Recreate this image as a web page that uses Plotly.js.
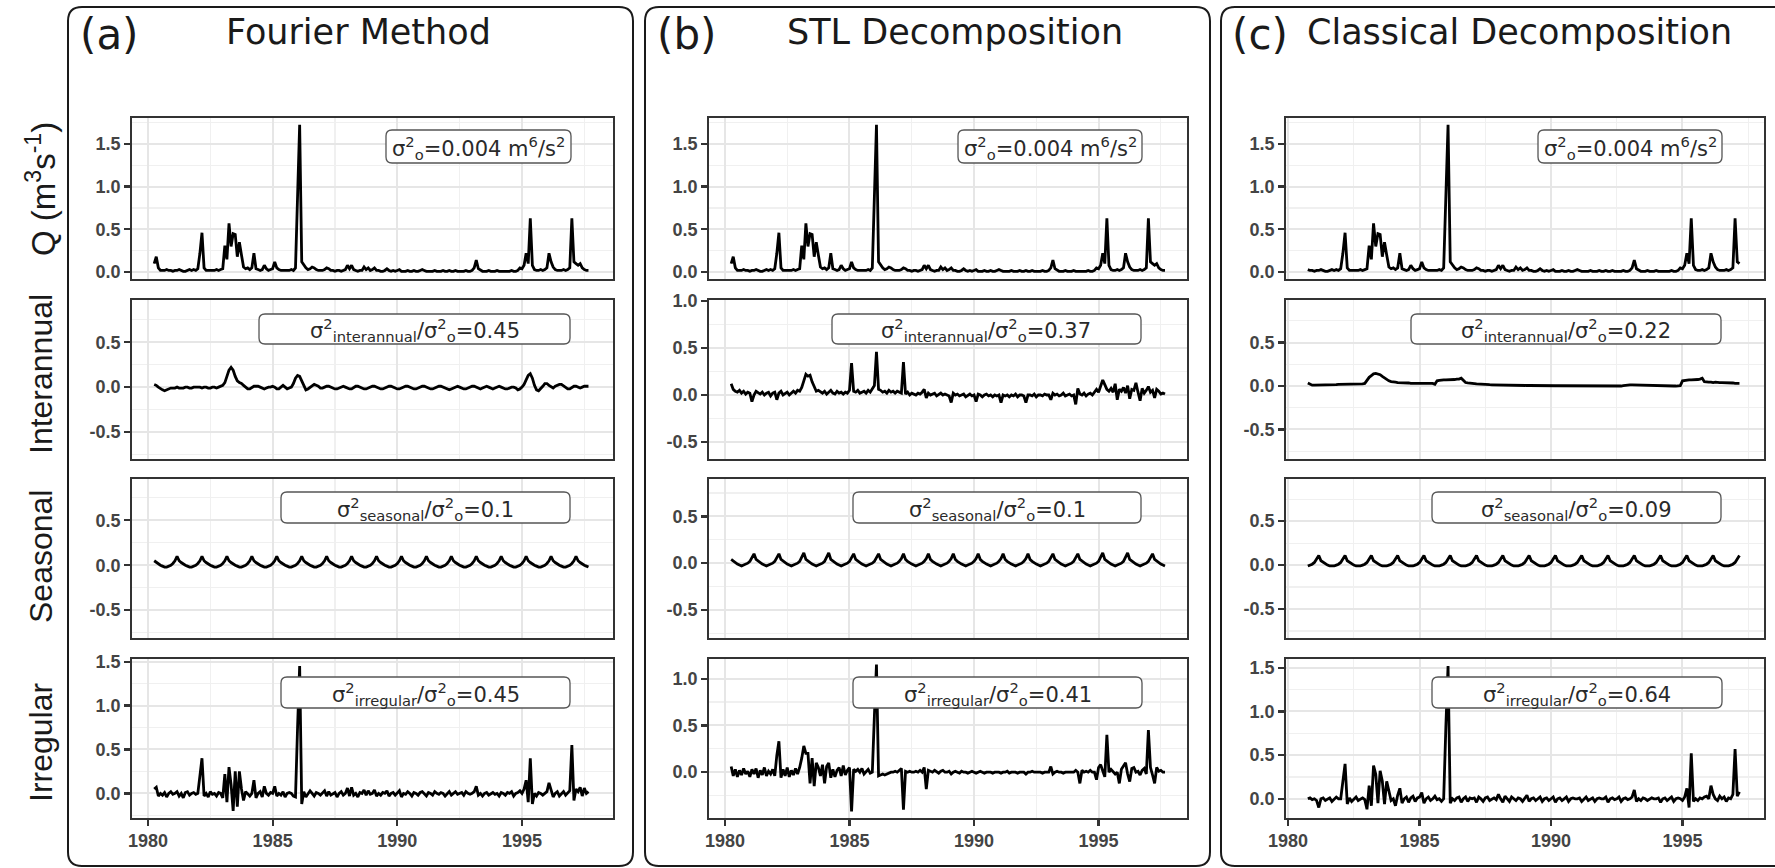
<!DOCTYPE html>
<html><head><meta charset="utf-8">
<script src="https://cdn.plot.ly/plotly-3.0.1.min.js"></script>
<style>html,body{margin:0;padding:0;background:#fff}#chart{width:1775px;height:868px}</style>
</head><body><div id="chart"></div>
<script>
const W = 1775, H = 868;

// ---------- text ----------
const panelTags = ['(a)', '(b)', '(c)'];
const panelTitles = ['Fourier Method', 'STL Decomposition', 'Classical Decomposition'];
const rowTitles = ['Q (m<sup>3</sup>s<sup>-1</sup>)', 'Interannual', 'Seasonal', 'Irregular'];
const xTickVals = [1980, 1985, 1990, 1995];
const xTickText = ['1980', '1985', '1990', '1995'];
const totalVarianceLabel = 'σ<sup>2</sup><sub>o</sub>=0.004 m<sup>6</sup>/s<sup>2</sup>';
const interannualRatio = ['0.45', '0.37', '0.22'];
const seasonalRatio = ['0.1', '0.1', '0.09'];
const irregularRatio = ['0.45', '0.41', '0.64'];

// ---------- data: monthly, Apr 1980 - Sep 1997 (panels a, b) ----------
const Q = [
 .10,.18,.05,.02,.02,.02,.03,.02,.02,
 .01,.02,.02,.03,.02,.01,.01,.02,.03,.02,.03,.02,
 .04,.22,.46,.05,.02,.02,.02,.02,.02,.03,.02,.03,
 .04,.31,.15,.57,.30,.45,.44,.18,.35,.20,.06,.04,
 .05,.03,.05,.22,.04,.03,.02,.03,.08,.04,.02,.03,
 .04,.12,.05,.03,.02,.02,.02,.02,.02,.03,.02,.05,
 .95,1.72,.12,.08,.05,.03,.04,.06,.05,.03,.02,.02,
 .02,.03,.05,.04,.02,.02,.01,.02,.02,.01,.02,.03,
 .08,.04,.08,.03,.02,.01,.02,.02,.06,.03,.05,.02,
 .03,.05,.02,.02,.01,.01,.02,.04,.02,.01,.02,.01,
 .02,.03,.01,.01,.01,.02,.01,.01,.02,.01,.01,.02,
 .03,.02,.01,.01,.01,.01,.02,.01,.01,.01,.02,.01,
 .01,.02,.01,.01,.02,.01,.01,.01,.01,.02,.01,.01,
 .02,.05,.14,.04,.02,.01,.01,.01,.02,.01,.01,.01,
 .02,.01,.01,.01,.01,.01,.01,.02,.01,.01,.02,.05,
 .04,.08,.22,.10,.63,.08,.03,.02,.02,.03,.02,.03,
 .05,.22,.12,.06,.03,.02,.02,.02,.03,.02,.03,.05,
 .63,.12,.10,.08,.10,.05,.03,.02,.02
];
const fourierInterannual = [
 .03,.02,0,-.02,-.03,-.04,-.03,-.02,-.01,
 -.01,-.01,0,-.01,-.01,-.01,0,0,-.01,-.01,0,0,
 0,0,-.01,0,0,-.01,-.01,0,0,-.01,0,.01,
 .02,.05,.12,.19,.22,.19,.12,.07,.05,.04,.02,0,
 -.02,-.02,0,.01,.01,.01,0,-.01,-.02,-.01,0,0,
 .01,0,-.02,-.02,0,.02,0,-.02,-.01,0,.04,.1,
 .13,.12,.07,.01,-.03,-.02,0,.02,.03,.02,.01,-.01,
 -.01,0,.01,.01,0,-.01,-.02,-.02,-.01,0,.01,0,
 -.01,-.02,-.02,0,.01,.01,0,-.01,-.02,-.02,-.01,0,
 .01,.01,0,-.01,-.02,-.02,-.01,0,.01,.01,0,-.01,
 -.02,-.02,-.01,0,.01,.01,0,-.01,-.02,-.02,-.01,0,
 .01,.01,0,-.01,-.02,-.02,-.01,0,.01,.01,0,-.01,
 -.02,-.03,-.02,-.01,0,.01,0,-.01,-.02,-.02,-.01,0,
 .01,.01,0,-.01,-.02,-.01,0,.01,0,-.01,-.02,-.01,
 0,.01,0,-.01,-.02,-.02,-.01,0,0,-.01,-.03,-.02,
 0,.03,.08,.13,.15,.1,.02,-.03,-.04,-.02,.01,.04,
 .04,.02,0,-.01,.01,.02,.03,.03,.01,-.01,-.02,-.02,
 0,.01,.01,0,-.01,0,.01,.01,.01
];
const fourierSeasonal = [
 .05,.03,.01,0,-.01,-.02,-.02,-.01,0,
 .02,.05,.1,.05,.03,.01,0,-.01,-.02,-.02,-.01,0,
 .02,.05,.1,.05,.03,.01,0,-.01,-.02,-.02,-.01,0,
 .02,.05,.1,.05,.03,.01,0,-.01,-.02,-.02,-.01,0,
 .02,.05,.1,.05,.03,.01,0,-.01,-.02,-.02,-.01,0,
 .02,.05,.1,.05,.03,.01,0,-.01,-.02,-.02,-.01,0,
 .02,.05,.1,.05,.03,.01,0,-.01,-.02,-.02,-.01,0,
 .02,.05,.1,.05,.03,.01,0,-.01,-.02,-.02,-.01,0,
 .02,.05,.1,.05,.03,.01,0,-.01,-.02,-.02,-.01,0,
 .02,.05,.1,.05,.03,.01,0,-.01,-.02,-.02,-.01,0,
 .02,.05,.1,.05,.03,.01,0,-.01,-.02,-.02,-.01,0,
 .02,.05,.1,.05,.03,.01,0,-.01,-.02,-.02,-.01,0,
 .02,.05,.1,.05,.03,.01,0,-.01,-.02,-.02,-.01,0,
 .02,.05,.1,.05,.03,.01,0,-.01,-.02,-.02,-.01,0,
 .02,.05,.1,.05,.03,.01,0,-.01,-.02,-.02,-.01,0,
 .02,.05,.1,.05,.03,.01,0,-.01,-.02,-.02,-.01,0,
 .02,.05,.1,.05,.03,.01,0,-.01,-.02,-.02,-.01,0,
 .02,.05,.1,.05,.03,.01,0,-.01,-.02
];
const fourierIrregular = [
 .05,.07,-.03,0,-.02,.01,-.04,0,.02,
 -.01,0,.02,-.03,0,-.05,.01,.02,-.02,0,.01,-.01,
 0,.2,.4,-.03,0,-.04,.02,-.01,0,-.03,.01,0,
 -.05,.22,-.1,.3,.1,-.2,.25,-.15,.25,.05,-.08,.02,
 0,-.03,0,.15,-.05,0,.02,-.04,.08,0,-.02,.01,
 0,.08,-.03,0,-.02,.02,-.04,0,.01,0,-.03,-.04,
 .75,1.45,-.12,.02,-.04,0,.03,0,-.03,.01,0,-.02,
 0,.03,-.03,.02,-.02,0,.01,-.04,0,.02,-.02,0,
 .06,-.03,.07,-.02,0,-.04,.01,0,.04,-.02,.03,-.01,
 0,.04,-.03,0,-.02,.01,0,.03,-.03,0,.01,-.02,
 0,.03,-.04,0,-.01,.02,0,-.03,.01,0,-.02,.01,
 .02,0,-.03,.01,0,-.02,.02,0,-.01,.01,0,-.03,
 0,.02,-.02,0,.02,-.01,0,.01,-.02,.02,0,-.01,
 0,.02,.08,-.02,0,-.03,0,.01,-.02,0,.01,-.01,
 0,-.03,.01,0,-.02,.01,0,.02,-.03,0,.01,.03,
 0,.05,.15,-.1,.4,-.12,0,-.03,.01,0,-.02,0,
 .02,.12,.03,-.04,0,.02,-.03,0,.02,-.02,0,.03,
 .55,-.08,.05,.02,.07,-.03,.06,0,.02
];
const stlInterannual = [
 .12,.06,.04,.03,.05,.02,.04,.01,.03,
 .02,-.07,0,.04,.02,.01,.03,0,.02,.03,-.01,.02,
 .03,-.05,.02,.04,0,.02,.03,0,.02,.04,.02,.05,
 .04,.08,.15,.22,.2,.21,.14,.08,.04,.05,.03,.02,
 .04,.01,.03,.05,.02,.01,.04,.02,.03,.01,.03,.02,
 .05,.34,.04,.03,.05,.02,.03,.04,.02,.05,.03,.06,
 .1,.46,.06,.05,.03,.04,.02,.05,.03,.04,.02,.04,
 .03,.02,.35,.01,.03,0,.02,.01,0,.02,.01,.03,
 .06,-.03,.02,0,.01,.02,-.01,.01,.02,0,.01,0,
 -.01,-.08,.02,0,.01,-.01,0,.01,-.02,0,.01,-.01,
 0,-.07,.01,0,-.02,0,.01,-.01,0,-.02,0,-.01,
 0,-.08,0,-.01,0,-.02,0,-.01,.01,-.02,0,0,
 -.01,-.08,0,0,-.01,.01,-.02,0,0,-.01,.01,0,
 0,-.05,.02,0,.01,-.01,0,.02,-.01,0,.01,-.01,
 0,-.1,.07,.01,0,.02,-.01,.01,.02,0,.03,.06,
 .03,.1,.16,.11,.06,.04,.07,.03,.12,-.05,.06,.04,
 .08,.02,.1,-.04,.06,.05,.13,.03,-.06,.07,.02,.05,
 .09,.03,.05,-.03,.06,.04,.01,.02,.01
];
const stlSeasonal = [
 .04,.02,0,-.01,-.02,-.03,-.02,-.01,0,
 .02,.06,.1,.04,.02,0,-.01,-.02,-.03,-.02,-.01,0,
 .02,.06,.1,.04,.02,0,-.01,-.02,-.03,-.02,-.01,0,
 .02,.06,.11,.04,.02,0,-.01,-.02,-.03,-.02,-.01,0,
 .02,.06,.11,.04,.02,0,-.01,-.02,-.03,-.02,-.01,0,
 .02,.06,.1,.04,.02,0,-.01,-.02,-.03,-.02,-.01,0,
 .02,.06,.1,.04,.02,0,-.01,-.02,-.03,-.02,-.01,0,
 .02,.05,.1,.04,.02,0,-.01,-.02,-.03,-.02,-.01,0,
 .02,.05,.1,.04,.02,0,-.01,-.02,-.03,-.02,-.01,0,
 .02,.05,.1,.04,.02,0,-.01,-.02,-.03,-.02,-.01,0,
 .02,.05,.1,.04,.02,0,-.01,-.02,-.03,-.02,-.01,0,
 .02,.05,.1,.04,.02,0,-.01,-.02,-.03,-.02,-.01,0,
 .02,.05,.1,.04,.02,0,-.01,-.02,-.03,-.02,-.01,0,
 .02,.06,.1,.04,.02,0,-.01,-.02,-.03,-.02,-.01,0,
 .02,.06,.1,.04,.02,0,-.01,-.02,-.03,-.02,-.01,0,
 .02,.06,.11,.04,.02,0,-.01,-.02,-.03,-.02,-.01,0,
 .02,.06,.11,.04,.02,0,-.01,-.02,-.03,-.02,-.01,0,
 .02,.06,.1,.04,.02,0,-.01,-.02,-.03
];
const stlIrregular = [
 .06,-.04,.03,-.05,.02,-.03,.04,-.02,.01,
 -.05,.03,-.02,.04,-.06,.02,-.03,.05,-.04,.01,-.02,.03,
 -.04,.18,.33,-.06,.03,-.04,.05,-.05,.02,-.03,.04,-.02,
 .05,.15,.28,.2,.2,-.12,.15,-.15,.1,.05,-.04,.08,
 -.12,.06,.1,-.06,.03,-.05,.02,.05,-.04,.07,-.03,.02,
 .05,-.42,.03,.01,.03,0,.04,-.02,.01,.03,-.01,0,
 .6,1.15,-.04,-.03,-.02,-.03,-.02,-.01,0,0,.01,0,
 .02,.04,-.4,.01,0,.01,0,0,.01,0,.02,0,
 .05,-.18,.02,.01,0,.02,0,-.01,.01,.02,0,0,
 .01,-.02,0,.01,0,-.01,.01,0,0,-.01,0,.01,
 0,-.01,0,.01,0,-.01,0,0,0,-.01,0,0,
 0,-.01,0,0,.01,-.01,0,0,0,-.01,0,0,
 0,-.02,0,0,.01,0,0,0,0,-.01,0,0,
 0,.06,-.02,0,.01,0,0,-.01,0,0,0,0,
 0,.02,0,-.12,.02,0,.01,0,.02,0,0,-.08,
 .05,.08,.02,-.05,.4,0,.03,0,-.02,0,-.12,.03,
 .06,.1,-.02,-.1,.04,.05,0,.01,-.03,.02,.04,-.02,
 .45,.05,-.03,-.12,.05,.01,.02,0,0
];

// ---------- data: monthly, Oct 1980 - Mar 1997 (panel c) ----------
const classicalInterannual = [
 .035,.02,.01,
 .01,.01,.01,.01,.01,.01,.01,.015,.015,.015,.015,.02,
 .02,.02,.02,.02,.02,.02,.02,.02,.02,.02,.025,.03,
 .07,.1,.12,.14,.145,.14,.13,.11,.09,.07,.06,.05,
 .05,.045,.04,.04,.035,.035,.035,.035,.03,.03,.03,.03,
 .03,.03,.03,.03,.03,.03,.03,.02,.06,.065,.07,.07,
 .07,.07,.07,.075,.075,.08,.08,.09,.06,.04,.035,.03,
 .03,.028,.025,.022,.02,.02,.018,.016,.015,.014,.013,.012,
 .012,.011,.01,.01,.01,.01,.01,.01,.009,.008,.008,.008,
 .007,.006,.006,.005,.005,.005,.005,.005,.005,.004,.004,.004,
 .004,.003,.003,.003,.003,.003,.002,.002,.002,.002,.002,.001,
 .001,0,0,0,0,0,0,-.002,-.002,-.002,-.003,-.003,
 -.004,-.004,-.004,-.004,-.004,-.003,-.003,-.002,0,.005,.01,.012,
 .013,.013,.012,.012,.012,.012,.01,.01,.01,.01,.008,.005,
 .002,0,-.002,-.004,-.005,-.005,-.004,-.002,0,0,0,.005,
 .06,.065,.065,.07,.07,.07,.075,.075,.08,.09,.05,.045,
 .045,.045,.04,.045,.04,.04,.04,.04,.04,.035,.035,.035,
 .03,.03,.03
];
const classicalSeasonal = [
 -.01,0,.01,
 .03,.07,.11,.05,.03,.01,0,-.01,-.01,-.01,0,.01,
 .03,.07,.11,.05,.03,.01,0,-.01,-.01,-.01,0,.01,
 .03,.07,.11,.05,.03,.01,0,-.01,-.01,-.01,0,.01,
 .03,.07,.11,.05,.03,.01,0,-.01,-.01,-.01,0,.01,
 .03,.07,.11,.05,.03,.01,0,-.01,-.01,-.01,0,.01,
 .03,.07,.11,.05,.03,.01,0,-.01,-.01,-.01,0,.01,
 .03,.07,.11,.05,.03,.01,0,-.01,-.01,-.01,0,.01,
 .03,.07,.11,.05,.03,.01,0,-.01,-.01,-.01,0,.01,
 .03,.07,.11,.05,.03,.01,0,-.01,-.01,-.01,0,.01,
 .03,.07,.11,.05,.03,.01,0,-.01,-.01,-.01,0,.01,
 .03,.07,.11,.05,.03,.01,0,-.01,-.01,-.01,0,.01,
 .03,.07,.11,.05,.03,.01,0,-.01,-.01,-.01,0,.01,
 .03,.07,.11,.05,.03,.01,0,-.01,-.01,-.01,0,.01,
 .03,.07,.11,.05,.03,.01,0,-.01,-.01,-.01,0,.01,
 .03,.07,.11,.05,.03,.01,0,-.01,-.01,-.01,0,.01,
 .03,.07,.11,.05,.03,.01,0,-.01,-.01,-.01,0,.01,
 .03,.07,.11
];
const classicalIrregular = [
 0,.01,-.01,
 0,-.02,-.1,0,.01,-.02,0,.01,-.03,0,.02,0,
 0,.2,.4,-.06,.01,-.03,0,.02,-.02,0,.01,-.01,
 -.12,.15,-.08,.38,.28,-.05,.32,.2,-.06,.2,.1,-.02,
 0,-.08,.04,.12,-.05,0,.02,-.04,.01,.03,-.03,.01,
 .02,.07,-.05,0,.02,-.02,0,.03,-.01,0,-.03,0,
 .82,1.52,-.05,0,-.02,.01,.02,-.04,0,.02,-.03,.01,
 0,.01,-.04,.02,0,-.03,.01,.02,-.02,0,.01,-.01,
 .05,0,-.04,.03,0,-.03,.02,0,-.02,.01,0,-.03,
 .01,.04,-.03,0,.01,-.02,0,.02,-.03,0,.01,-.02,
 0,.02,-.04,0,.01,-.02,0,.02,-.03,0,.01,0,
 0,.01,-.03,0,.02,-.02,0,.01,-.03,0,.01,0,
 0,.02,-.04,0,.01,-.01,0,.02,-.03,0,.01,-.01,
 0,.02,.1,-.03,0,-.02,.01,0,-.02,0,.01,0,
 0,.01,-.04,0,.01,-.02,0,.02,-.03,0,.01,0,
 -.02,.02,.12,-.1,.52,-.03,0,-.02,.01,0,.02,.03,
 0,.15,.05,0,-.02,.03,0,.02,-.03,.01,0,.05,
 .57,.03,.08
];

// ---------- time axes (monthly index) ----------
const timeAB = Q.map((_, i) => 1980 + (3 + i) / 12);
const timeC = classicalIrregular.map((_, i) => 1980 + (9 + i) / 12);
const QC = Q.slice(6, 6 + classicalIrregular.length);

const panels = [
  {t: timeAB, rows: [Q, fourierInterannual, fourierSeasonal, fourierIrregular]},
  {t: timeAB, rows: [Q, stlInterannual, stlSeasonal, stlIrregular]},
  {t: timeC, rows: [QC, classicalInterannual, classicalSeasonal, classicalIrregular]}
];

// ---------- layout geometry (pixels) ----------
const panelXpx = [[132, 613], [709, 1187], [1286, 1764]];
const rowYpx = [[118, 279], [300, 459], [479, 638], [659, 818]];
const xRanges = [[1979.36, 1998.65], [1979.36, 1998.55], [1979.92, 1998.1]];
const yRanges = [
  [[-0.08, 1.80], [-0.80, 0.97], [-0.81, 0.96], [-0.28, 1.53]],
  [[-0.08, 1.80], [-0.68, 1.01], [-0.80, 0.90], [-0.49, 1.21]],
  [[-0.08, 1.80], [-0.84, 0.99], [-0.83, 0.98], [-0.22, 1.60]]
];
const yTicks = [
  [[0, .5, 1, 1.5], [-.5, 0, .5], [-.5, 0, .5], [0, .5, 1, 1.5]],
  [[0, .5, 1, 1.5], [-.5, 0, .5, 1], [-.5, 0, .5], [0, .5, 1]],
  [[0, .5, 1, 1.5], [-.5, 0, .5], [-.5, 0, .5], [0, .5, 1, 1.5]]
];
const boxPx = [
  [[386, 571, 130, 163], [958, 1142, 130, 163], [1538, 1722, 130, 163]],
  [[259, 570, 314, 344], [832, 1141, 314, 344], [1411, 1721, 314, 344]],
  [[281, 570, 492, 523], [853, 1141, 492, 523], [1432, 1721, 492, 523]],
  [[281, 570, 677, 708], [853, 1142, 677, 708], [1432, 1722, 677, 708]]
];
const panelBoxPx = [[68, 633, 7, 866], [645, 1210, 7, 866], [1221, 1800, 7, 866]];
const tagX = [78, 655, 1230];
const titleX = [358, 955, 1519];
const rowTitleY = [189, 374, 557, 742];

const PX = v => v / W, PY = v => 1 - v / H;
function rr(x0, x1, y0, y1, r) {
  const X = v => (v / W).toFixed(5), Y = v => (1 - v / H).toFixed(5);
  return `M${X(x0 + r)},${Y(y0)} L${X(x1 - r)},${Y(y0)} Q${X(x1)},${Y(y0)} ${X(x1)},${Y(y0 + r)} ` +
         `L${X(x1)},${Y(y1 - r)} Q${X(x1)},${Y(y1)} ${X(x1 - r)},${Y(y1)} ` +
         `L${X(x0 + r)},${Y(y1)} Q${X(x0)},${Y(y1)} ${X(x0)},${Y(y1 - r)} ` +
         `L${X(x0)},${Y(y0 + r)} Q${X(x0)},${Y(y0)} ${X(x0 + r)},${Y(y0)} Z`;
}

const tickFont = {family: 'Liberation Sans, Arial, sans-serif', size: 18, color: '#444', weight: 'bold'};
const traces = [];
const layout = {
  width: W, height: H, margin: {l: 0, r: 0, t: 0, b: 0},
  paper_bgcolor: '#fff', plot_bgcolor: '#fff', showlegend: false,
  shapes: [], annotations: []
};

for (let p = 0; p < 3; p++) {
  for (let r = 0; r < 4; r++) {
    const k = p * 4 + r + 1;
    const sfx = k === 1 ? '' : String(k);
    traces.push({
      x: panels[p].t, y: panels[p].rows[r], type: 'scatter', mode: 'lines',
      xaxis: 'x' + sfx, yaxis: 'y' + sfx,
      line: {color: '#000', width: 2.8}, hoverinfo: 'skip'
    });
    layout['xaxis' + sfx] = {
      domain: [PX(panelXpx[p][0]), PX(panelXpx[p][1])], anchor: 'y' + sfx,
      range: xRanges[p], tickmode: 'array', tickvals: xTickVals,
      ticktext: xTickText, showticklabels: r === 3,
      ticks: r === 3 ? 'outside' : '', ticklen: 6, tickwidth: 2.2, tickcolor: '#333',
      showline: true, mirror: true, linecolor: '#333', linewidth: 1.8,
      showgrid: true, gridcolor: '#e6e6e6', gridwidth: 2, zeroline: false,
      minor: {tickmode: 'array', tickvals: [1982.5, 1987.5, 1992.5, 1997.5], showgrid: true, gridcolor: '#f0f0f0', gridwidth: 1.2, ticks: ''},
      tickfont: tickFont, fixedrange: true
    };
    const yt = yTicks[p][r];
    const minorVals = [-0.75, -0.25, 0.25, 0.75, 1.25, 1.75];
    layout['yaxis' + sfx] = {
      domain: [PY(rowYpx[r][1]), PY(rowYpx[r][0])], anchor: 'x' + sfx,
      range: yRanges[p][r], tickmode: 'array', tickvals: yt,
      ticktext: yt.map(v => v.toFixed(1)),
      ticks: 'outside', ticklen: 6, tickwidth: 2.2, tickcolor: '#333',
      showline: true, mirror: true, linecolor: '#333', linewidth: 1.8,
      showgrid: true, gridcolor: '#e6e6e6', gridwidth: 2, zeroline: false,
      minor: {tickmode: 'array', tickvals: minorVals, showgrid: true, gridcolor: '#f0f0f0', gridwidth: 1.2, ticks: ''},
      tickfont: tickFont, fixedrange: true
    };
    // label box
    const b = boxPx[r][p];
    layout.shapes.push({
      type: 'path', xref: 'paper', yref: 'paper', path: rr(b[0], b[1], b[2], b[3], 6),
      line: {color: '#555', width: 1.3}, fillcolor: '#fff', layer: 'above'
    });
    let txt;
    if (r === 0) txt = totalVarianceLabel;
    else if (r === 1) txt = 'σ<sup>2</sup><sub>interannual</sub>/σ<sup>2</sup><sub>o</sub>=' + interannualRatio[p];
    else if (r === 2) txt = 'σ<sup>2</sup><sub>seasonal</sub>/σ<sup>2</sup><sub>o</sub>=' + seasonalRatio[p];
    else txt = 'σ<sup>2</sup><sub>irregular</sub>/σ<sup>2</sup><sub>o</sub>=' + irregularRatio[p];
    layout.annotations.push({
      xref: 'paper', yref: 'paper', x: PX((b[0] + b[1]) / 2), y: PY((b[2] + b[3]) / 2 + 1),
      xanchor: 'center', yanchor: 'middle', showarrow: false, text: txt,
      font: {family: 'DejaVu Sans, sans-serif', size: 21, color: '#2a2a2a'}
    });
  }
  // panel border
  const pb = panelBoxPx[p];
  layout.shapes.push({
    type: 'path', xref: 'paper', yref: 'paper', path: rr(pb[0], pb[1], pb[2], pb[3], 14),
    line: {color: '#1a1a1a', width: 2}, fillcolor: 'rgba(0,0,0,0)', layer: 'above'
  });
  layout.annotations.push({
    xref: 'paper', yref: 'paper', x: PX(tagX[p]), y: PY(34), xanchor: 'left', yanchor: 'middle',
    showarrow: false, text: panelTags[p], font: {family: 'DejaVu Sans, sans-serif', size: 42, color: '#1a1a1a'}
  });
  layout.annotations.push({
    xref: 'paper', yref: 'paper', x: PX(titleX[p]), y: PY(32), xanchor: 'center', yanchor: 'middle',
    showarrow: false, text: panelTitles[p], font: {family: 'DejaVu Sans, sans-serif', size: 35, color: '#1a1a1a'}
  });
}
for (let r = 0; r < 4; r++) {
  layout.annotations.push({
    xref: 'paper', yref: 'paper', x: PX(41), y: PY(rowTitleY[r]), xanchor: 'center', yanchor: 'middle',
    textangle: -90, showarrow: false, text: rowTitles[r],
    font: {family: 'Liberation Sans, Arial, sans-serif', size: r === 0 ? 33 : 32, color: '#1a1a1a'}
  });
}

Plotly.newPlot('chart', traces, layout, {staticPlot: true, displayModeBar: false});
</script></body></html>
